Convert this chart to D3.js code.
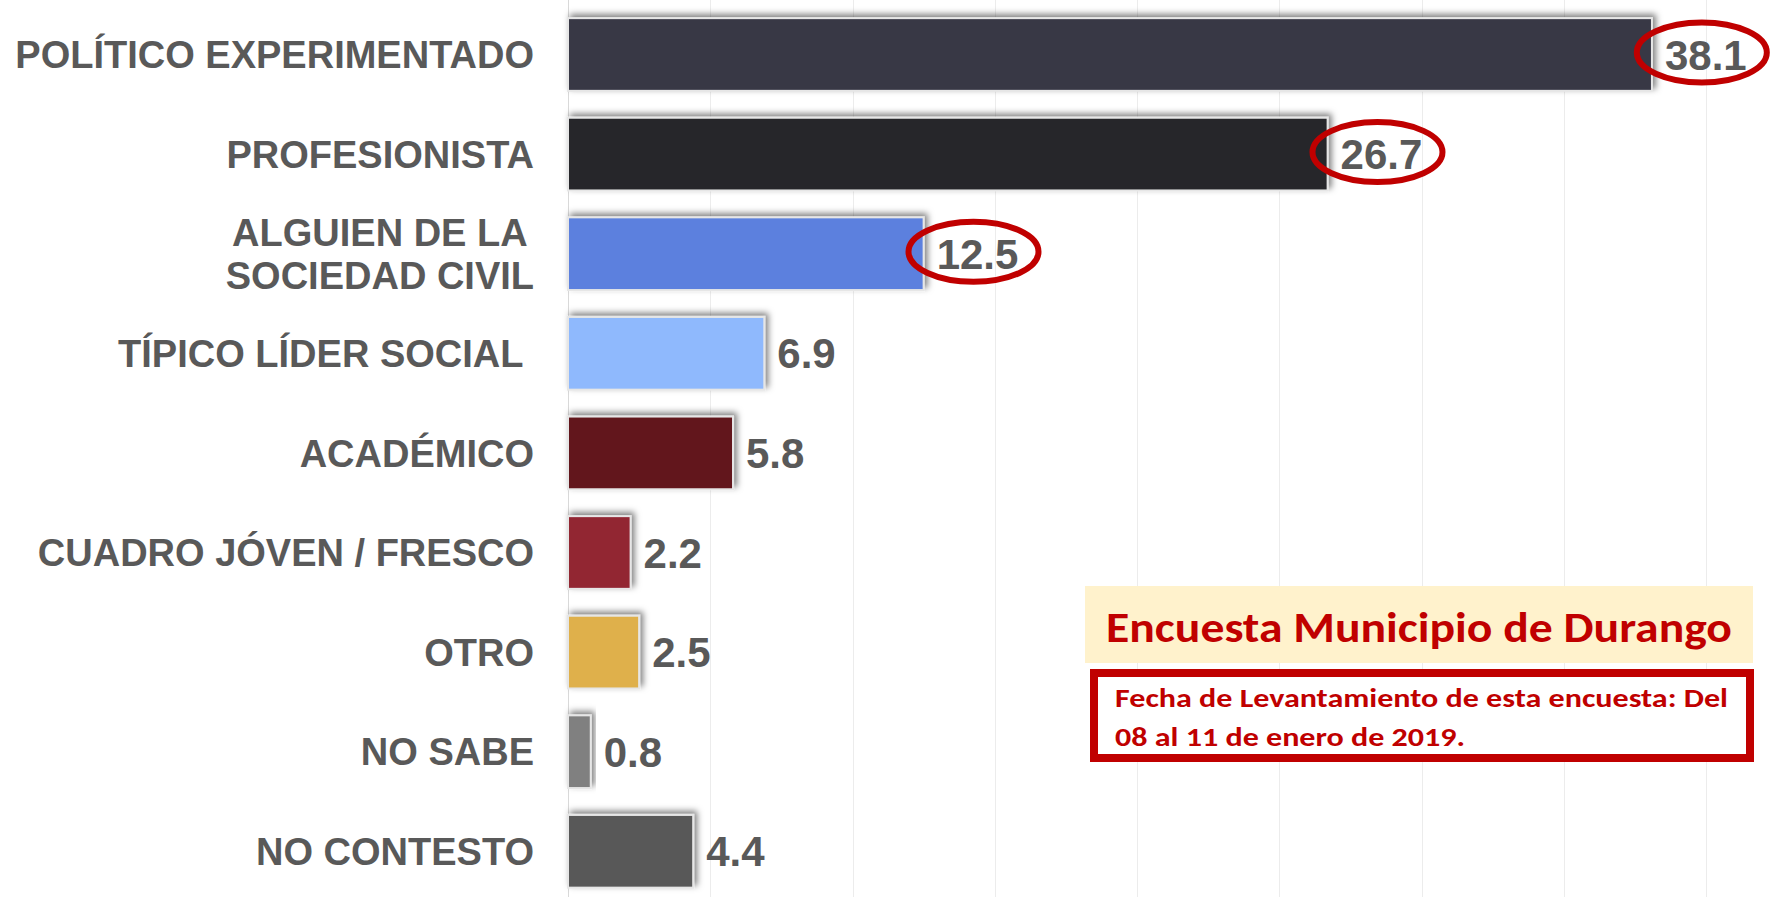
<!DOCTYPE html>
<html>
<head>
<meta charset="utf-8">
<script src="https://cdn.jsdelivr.net/npm/d3@7"></script>
<style>
  html, body { margin: 0; padding: 0; background: #fff; overflow: hidden; }
  svg { display: block; }
</style>
</head>
<body>
<div id="chart"></div>
<script>
/* Horizontal bar chart - Encuesta Municipio de Durango */

// categories (use \n for a line break)
const categories = [
    'POLÍTICO EXPERIMENTADO',
    'PROFESIONISTA',
    'ALGUIEN DE LA\nSOCIEDAD CIVIL',
    'TÍPICO LÍDER SOCIAL\u00a0',
    'ACADÉMICO',
    'CUADRO JÓVEN / FRESCO',
    'OTRO',
    'NO SABE',
    'NO CONTESTO'
];
const values = [38.1, 26.7, 12.5, 6.9, 5.8, 2.2, 2.5, 0.8, 4.4];
const barColors = ['#383845', '#26282b', '#5b80de', '#8fb9fd', '#62171e', '#922533', '#dfb04c', '#808080', '#595959'];
const circled = [true, true, true, false, false, false, false, false, false];
const xTicks = [0, 5, 10, 15, 20, 25, 30, 35, 40];

const titleText = 'Encuesta Municipio de Durango';
const dateLines = ['Fecha de Levantamiento de esta encuesta: Del', '08 al 11 de enero de 2019.'];

const W = 1776, H = 897;
const textGray = '#595959';
const red = '#c00000';

const svg = d3.select('#chart')
    .append('svg')
    .attr('width', W)
    .attr('height', H);

// drop shadow for the bars
const defs = svg.append('defs');
const filt = defs.append('filter')
    .attr('id', 'shadow')
    .attr('x', '-20%').attr('y', '-40%')
    .attr('width', '140%').attr('height', '180%');
filt.append('feDropShadow')
    .attr('dx', 3).attr('dy', -3)
    .attr('stdDeviation', 3)
    .attr('flood-color', '#000')
    .attr('flood-opacity', 0.5);

const x = d3.scaleLinear()
    .domain([0, 40])
    .range([568, 1706]);

const y = d3.scaleBand()
    .domain(categories)
    .range([4.7, 901.1])
    .paddingInner(0.27)
    .paddingOuter(0.135);

// grid lines
svg.append('g')
    .selectAll('line')
    .data(xTicks)
    .enter()
    .append('line')
    .attr('x1', d => Math.round(x(d)) + 0.5)
    .attr('x2', d => Math.round(x(d)) + 0.5)
    .attr('y1', 0)
    .attr('y2', H)
    .attr('stroke', d => d === 0 ? '#d9d9d9' : '#ececec')
    .attr('stroke-width', 1);

// bars
svg.append('g')
    .selectAll('rect')
    .data(values)
    .enter()
    .append('rect')
    .attr('x', x(0))
    .attr('y', (d, i) => y(categories[i]))
    .attr('width', d => x(d) - x(0))
    .attr('height', y.bandwidth())
    .attr('fill', (d, i) => barColors[i])
    .attr('stroke', '#e6e6e6')
    .attr('stroke-width', 2)
    .attr('filter', 'url(#shadow)');

// value labels
const valueFont = 42;
const valLabels = svg.append('g')
    .selectAll('text')
    .data(values)
    .enter()
    .append('text')
    .attr('x', d => x(d) + 13)
    .attr('y', (d, i) => y(categories[i]) + y.bandwidth() / 2 + valueFont * 0.358)
    .attr('font-family', '"Liberation Sans", Arial, sans-serif')
    .attr('font-weight', 'bold')
    .attr('font-size', valueFont)
    .attr('fill', textGray)
    .text(d => d.toFixed(1));

// red ellipses round the top values
valLabels.each(function(d, i) {
    if (!circled[i]) return;
    const tw = this.getComputedTextLength();
    const cx = x(d) + 13 + tw / 2 - 4;
    const cy = y(categories[i]) + y.bandwidth() / 2 - 2;
    svg.append('ellipse')
        .attr('cx', cx)
        .attr('cy', cy)
        .attr('rx', 65)
        .attr('ry', 30)
        .attr('fill', 'none')
        .attr('stroke', red)
        .attr('stroke-width', 6);
});

// category labels
const labelRight = 534;
const labelFont = 38;
const lineGap = 43;
categories.forEach(cat => {
    const lines = cat.split('\n');
    const cy = y(cat) + y.bandwidth() / 2;
    const t = svg.append('text')
        .attr('font-family', '"Liberation Sans", Arial, sans-serif')
        .attr('font-weight', 'bold')
        .attr('font-size', labelFont)
        .attr('fill', textGray);
    const spans = lines.map((ln, k) => t.append('tspan')
        .attr('y', cy + (k - (lines.length - 1) / 2) * lineGap + labelFont * 0.358)
        .text(ln));
    // multi-line labels are centred on the widest line
    const widths = spans.map(s => s.node().getComputedTextLength());
    const maxW = d3.max(widths);
    spans.forEach(s => s.attr('x', labelRight - maxW / 2).attr('text-anchor', 'middle'));
});

// title box
const annFont = 'Carlito, Calibri, Lato, sans-serif';
svg.append('rect')
    .attr('x', 1085).attr('y', 586)
    .attr('width', 668).attr('height', 77)
    .attr('fill', '#fff2cc');
svg.append('text')
    .attr('x', 1106).attr('y', 642)
    .attr('font-family', annFont)
    .attr('font-weight', 'bold')
    .attr('font-size', 43)
    .attr('fill', red)
    .attr('textLength', 626)
    .attr('lengthAdjust', 'spacingAndGlyphs')
    .text(titleText);

// date box
svg.append('rect')
    .attr('x', 1094).attr('y', 673)
    .attr('width', 656).attr('height', 85)
    .attr('fill', '#fff')
    .attr('stroke', red)
    .attr('stroke-width', 8);
const dateTexts = dateLines.map((ln, k) => svg.append('text')
    .attr('x', 1115).attr('y', 707 + k * 39)
    .attr('font-family', annFont)
    .attr('font-weight', 'bold')
    .attr('font-size', 27)
    .attr('fill', red)
    .text(ln));
const natural0 = dateTexts[0].node().getComputedTextLength();
const squeeze = 613 / natural0;
dateTexts.forEach(t => {
    const nw = t.node().getComputedTextLength();
    t.attr('textLength', nw * squeeze).attr('lengthAdjust', 'spacingAndGlyphs');
});
</script>
</body>
</html>
